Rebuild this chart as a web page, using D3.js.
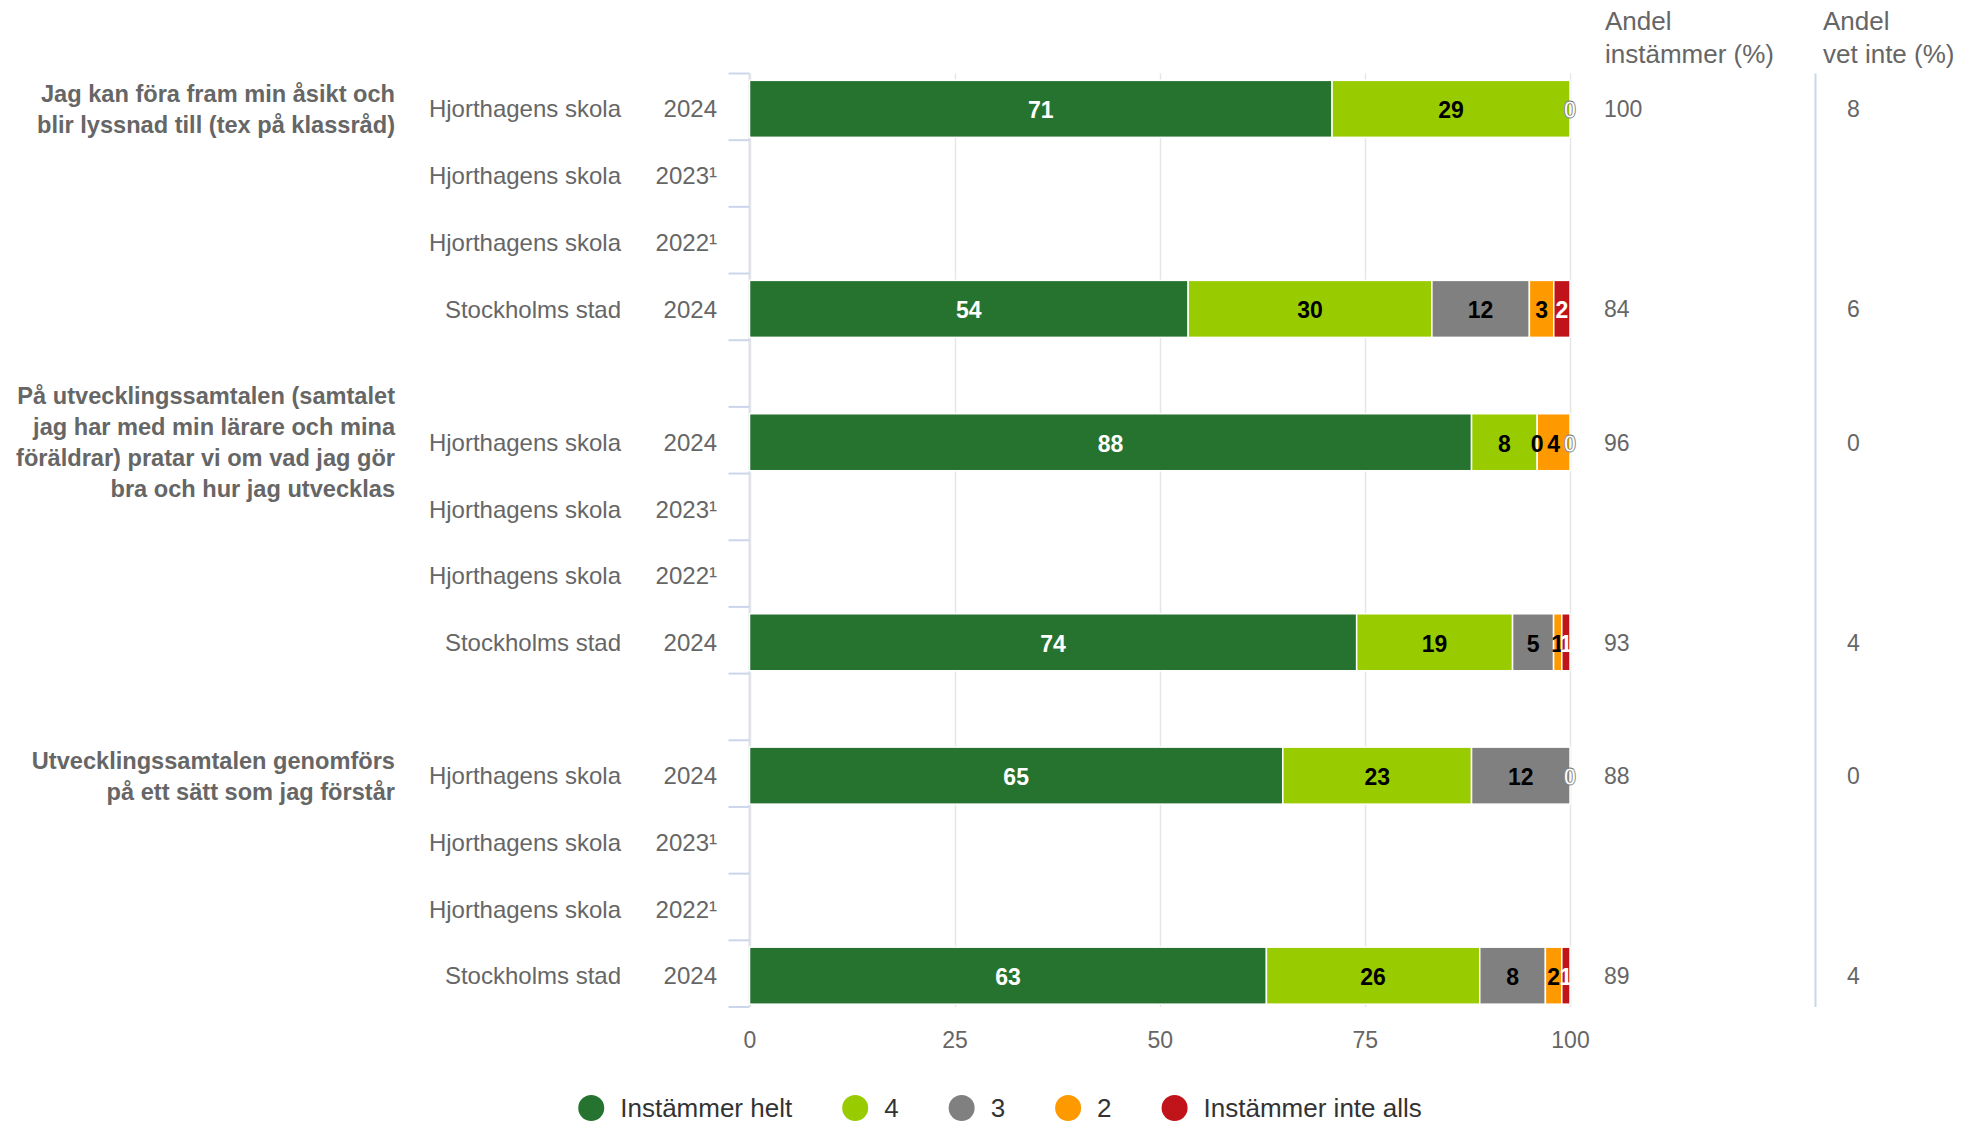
<!DOCTYPE html>
<html>
<head>
<meta charset="utf-8">
<script src="https://cdn.jsdelivr.net/npm/d3@7"></script>
<style>
  html, body { margin: 0; padding: 0; background: #fff; }
  svg { display: block; font-family: "Liberation Sans", Arial, Helvetica, sans-serif; }
</style>
</head>
<body>
<svg id="chart" width="1965" height="1123"></svg>
<script>
// ---------------- DATA ----------------
const questionLines = [
  ["Jag kan föra fram min åsikt och", "blir lyssnad till (tex på klassråd)"],
  ["På utvecklingssamtalen (samtalet", "jag har med min lärare och mina", "föräldrar) pratar vi om vad jag gör", "bra och hur jag utvecklas"],
  ["Utvecklingssamtalen genomförs", "på ett sätt som jag förstår"]
];
const units = ["Hjorthagens skola", "Hjorthagens skola", "Hjorthagens skola", "Stockholms stad"];
const years = ["2024", "2023¹", "2022¹", "2024"];
const seriesNames = ["Instämmer helt", "4", "3", "2", "Instämmer inte alls"];
const seriesColors = ["#267330", "#99cc00", "#808080", "#ff9900", "#c0141a"];
const labelColors = ["#ffffff", "#000000", "#000000", "#000000", "#ffffff"];

// values per row (12 rows: 3 questions x 4 rows), null = no data
const instammerHelt   = [71, null, null, 54, 88, null, null, 74, 65, null, null, 63];
const varde4          = [29, null, null, 30,  8, null, null, 19, 23, null, null, 26];
const varde3          = [ 0, null, null, 12,  0, null, null,  5, 12, null, null,  8];
const varde2          = [ 0, null, null,  3,  4, null, null,  1,  0, null, null,  2];
const instammerInte   = [ 0, null, null,  2,  0, null, null,  1,  0, null, null,  1];
const andelInstammer  = [100, null, null, 84, 96, null, null, 93, 88, null, null, 89];
const andelVetInte    = [ 8, null, null,  6,  0, null, null,  4,  0, null, null,  4];
const xTicks = [0, 25, 50, 75, 100];

// ---------------- LAYOUT ----------------
const svg = d3.select("#chart");
const plot = { left: 749.5, right: 1570, top: 73.5, bottom: 1007 };
const grey = "#666666";
const axisCol = "#ccd6eb";

const rowIds = [];
questionLines.forEach((q, qi) => {
  for (let r = 0; r < 4; r++) rowIds.push(`q${qi}r${r}`);
  if (qi < questionLines.length - 1) rowIds.push(`gap${qi}`);
});
const y = d3.scaleBand().domain(rowIds).range([plot.top, plot.bottom]).paddingInner(0).paddingOuter(0);
const x = d3.scaleLinear().domain([0, 100]).range([plot.left, plot.right]);
const barH = 57;
const barShift = 2;
const rowCenter = id => y(id) + y.bandwidth() / 2 + barShift;

const seriesVals = [instammerHelt, varde4, varde3, varde2, instammerInte];

// gridlines
svg.append("g").selectAll("line").data(xTicks).join("line")
  .attr("x1", d => Math.round(x(d)) + 0.5).attr("x2", d => Math.round(x(d)) + 0.5)
  .attr("y1", plot.top).attr("y2", plot.bottom)
  .attr("stroke", "#e6e6e6").attr("stroke-width", 1.5);

// x axis labels
const xAxis = d3.axisBottom(x).tickValues(xTicks).tickSize(0).tickPadding(25).tickFormat(d3.format("d"));
const xg = svg.append("g").attr("transform", `translate(0,${plot.bottom})`).call(xAxis);
xg.select(".domain").remove();
xg.selectAll("text").attr("fill", grey).style("font-size", "23px").style("font-family", "'Liberation Sans', Arial, sans-serif");

// y axis line and ticks at row boundaries
const boundaries = rowIds.map(id => y(id)).concat([plot.bottom]);
svg.append("line").attr("x1", plot.left).attr("x2", plot.left)
  .attr("y1", plot.top).attr("y2", plot.bottom).attr("stroke", "#dde2ea").attr("stroke-width", 2);
svg.append("g").selectAll("line").data(boundaries).join("line")
  .attr("x1", plot.left - 21).attr("x2", plot.left)
  .attr("y1", d => d).attr("y2", d => d)
  .attr("stroke", axisCol).attr("stroke-width", 2);

// separator line for right columns
svg.append("line").attr("x1", 1815.5).attr("x2", 1815.5)
  .attr("y1", plot.top).attr("y2", plot.bottom).attr("stroke", axisCol).attr("stroke-width", 2);

// build stacked rows
const rows = [];
questionLines.forEach((q, qi) => {
  for (let r = 0; r < 4; r++) {
    const idx = qi * 4 + r;
    rows.push({ id: `q${qi}r${r}`, qi, r, idx,
      vals: seriesVals.map(s => s[idx]),
      inst: andelInstammer[idx], vet: andelVetInte[idx] });
  }
});

const barsG = svg.append("g");
const labelsG = svg.append("g");
rows.forEach(row => {
  if (row.vals[0] === null) return;
  const total = d3.sum(row.vals);
  let cum = 0;
  const segs = row.vals.map((v, si) => {
    const x0 = cum / total * 100; cum += v; const x1 = cum / total * 100;
    return { si, v, x0, x1 };
  });
  const yc = rowCenter(row.id);
  barsG.selectAll(null).data(segs.filter(s => s.v > 0)).join("rect")
    .attr("x", s => x(s.x0)).attr("width", s => Math.max(0, x(s.x1) - x(s.x0)))
    .attr("y", yc - barH / 2).attr("height", barH)
    .attr("fill", s => seriesColors[s.si]).attr("stroke", "#ffffff").attr("stroke-width", 1.5);
  // labels: skip a label if a later one lands on the same spot
  const shown = segs.filter((s, i) => !segs.slice(i + 1).some(t => Math.abs((t.x0 + t.x1) / 2 - (s.x0 + s.x1) / 2) < 0.01));
  labelsG.selectAll(null).data(shown).join("text")
    .attr("x", s => x((s.x0 + s.x1) / 2)).attr("y", yc + 1).attr("dy", "0.36em")
    .attr("text-anchor", "middle")
    .attr("fill", s => labelColors[s.si])
    .attr("stroke", s => labelColors[s.si] === "#ffffff" && s.v === 0 ? "#777" : "none")
    .attr("stroke-width", 0.8)
    .style("font-size", "23px").style("font-weight", "bold")
    .text(s => s.v);
  // right columns
  svg.append("text").attr("x", 1604).attr("y", yc).attr("dy", "0.36em")
    .attr("fill", grey).style("font-size", "23px").text(row.inst);
  svg.append("text").attr("x", 1847).attr("y", yc).attr("dy", "0.36em")
    .attr("fill", grey).style("font-size", "23px").text(row.vet);
});

// category labels
rows.forEach(row => {
  const yc = rowCenter(row.id);
  svg.append("text").attr("x", 621).attr("y", yc).attr("dy", "0.36em")
    .attr("text-anchor", "end").attr("fill", grey).style("font-size", "24px")
    .text(units[row.r]);
  svg.append("text").attr("x", 717).attr("y", yc).attr("dy", "0.36em")
    .attr("text-anchor", "end").attr("fill", grey).style("font-size", "24px")
    .text(years[row.r]);
});

// question labels
const lineH = 31;
questionLines.forEach((lines, qi) => {
  const yc = rowCenter(`q${qi}r0`);
  const startY = yc - (lines.length - 1) * lineH / 2;
  const t = svg.append("text").attr("text-anchor", "end").attr("fill", grey)
    .style("font-size", "23.6px").style("font-weight", "bold");
  lines.forEach((ln, li) => {
    t.append("tspan").attr("x", 395).attr("y", startY + li * lineH).attr("dy", "0.36em").text(ln);
  });
});

// column headers
[["Andel", "instämmer (%)", 1605], ["Andel", "vet inte (%)", 1823]].forEach(([a, b, hx]) => {
  const t = svg.append("text").attr("fill", grey).style("font-size", "26px");
  t.append("tspan").attr("x", hx).attr("y", 21).attr("dy", "0.36em").text(a);
  t.append("tspan").attr("x", hx).attr("y", 54).attr("dy", "0.36em").text(b);
});

// legend
const legendY = 1108;
const lg = svg.append("g");
const items = lg.selectAll("g").data(seriesNames).join("g");
items.append("circle").attr("r", 13).attr("cy", legendY).attr("fill", (d, i) => seriesColors[i]);
items.append("text").attr("y", legendY).attr("dy", "0.36em").attr("fill", "#333333")
  .style("font-size", "26px").text(d => d);
let cx = 0;
items.each(function () {
  const g = d3.select(this);
  const w = g.select("text").node().getComputedTextLength();
  g.select("circle").attr("cx", cx);
  g.select("text").attr("x", cx + 29);
  cx = cx + 29 + w + 63;
});
const legendTotal = cx - 63 + 13;
lg.attr("transform", `translate(${1000 - legendTotal / 2 + 13},0)`);
</script>
</body>
</html>
